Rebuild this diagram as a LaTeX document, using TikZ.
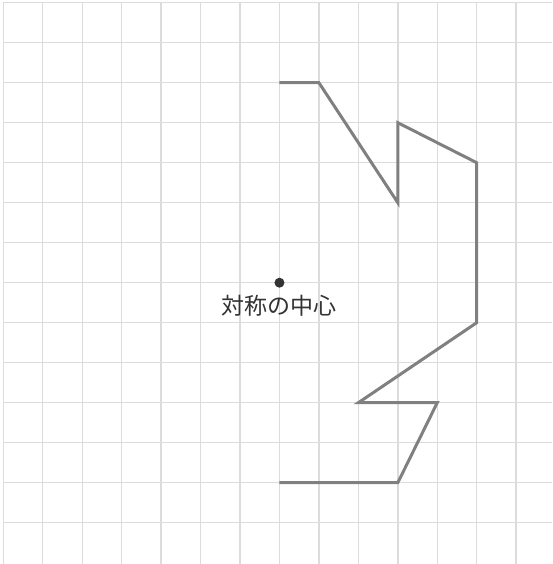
\documentclass[tikz,border=0pt]{standalone}
\usepackage{fontspec}
\usetikzlibrary{positioning}
\newfontfamily\jpfont{Noto Sans CJK JP}
\definecolor{gridgray}{RGB}{220,220,220}
\definecolor{shapegray}{RGB}{128,128,128}
\definecolor{dotgray}{RGB}{51,51,51}
\begin{document}
\begin{tikzpicture}[x=39.45pt,y=-40pt]
% Styles for grid, figure and centre
\tikzstyle{gridline} = [draw=gridgray, line width=1.4pt]
\tikzstyle{figline} = [draw=shapegray, line width=3pt, line join=miter]
\tikzstyle{centre} = [fill=dotgray, shape=circle, inner sep=0pt, minimum size=10pt]
\tikzstyle{caption} = [font=\jpfont\fontsize{23}{27}\selectfont, text=dotgray]
% Page size
\useasboundingbox (-3.3pt,2.7pt) rectangle (548.7pt,-561.3pt);
\clip (-3.3pt,2.7pt) rectangle (548.7pt,-561.3pt);
% Square grid
\foreach \i in {0,...,13}
  \draw[gridline] (\i,0) -- (\i,14.2);
\foreach \j in {0,...,13}
  \draw[gridline] (0,\j) -- (14.2,\j);
% Corners of the figure
\coordinate (p1) at (7,2);
\coordinate (p2) at (8,2);
\coordinate (p3) at (10,5);
\coordinate (p4) at (10,3);
\coordinate (p5) at (12,4);
\coordinate (p6) at (12,8);
\coordinate (p7) at (9,10);
\coordinate (p8) at (11,10);
\coordinate (p9) at (10,12);
\coordinate (p10) at (7,12);
\draw[figline] (p1) -- (p2) -- (p3) -- (p4) -- (p5) -- (p6)
  -- (p7) -- (p8) -- (p9) -- (p10);
% Centre of symmetry
\node[centre] (o) at (7,7) {};
\node[caption, below=9pt of o.center] (olabel) {対称の中心};
\end{tikzpicture}
\end{document}
